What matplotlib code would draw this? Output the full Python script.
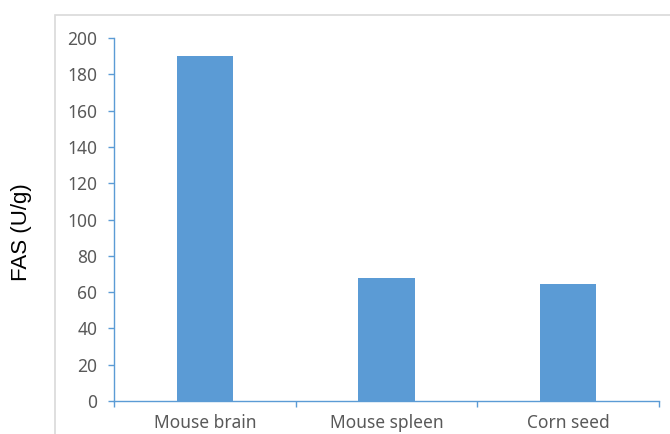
import matplotlib.pyplot as plt
from matplotlib.patches import Rectangle
from matplotlib.ticker import FixedLocator

# FAS activity by sample
samples = ['Mouse brain', 'Mouse spleen', 'Corn seed']
fas_activity = [190, 68, 64.5]

bar_color = '#5b9bd5'
axis_color = '#5b9bd5'
text_gray = '#595959'

fig = plt.figure(figsize=(6.7, 4.34), dpi=100)
ax = fig.add_axes([114 / 670, 1 - 401 / 434, 545 / 670, 363 / 434])

# light frame around the chart area
fig.patches.append(Rectangle((55 / 670, -0.1), 1.0, 1 - 15 / 434 + 0.1,
                             transform=fig.transFigure, fill=False,
                             edgecolor='#d9d9d9', linewidth=1.2, zorder=0))

x = range(len(samples))
ax.bar(x, fas_activity, width=0.31, color=bar_color, zorder=2)

ax.set_xlim(-0.5, len(samples) - 0.5)
ax.set_ylim(0, 200)
ax.set_yticks(range(0, 201, 20))
ax.set_xticks(list(x))
ax.set_xticklabels(samples)
ax.xaxis.set_minor_locator(FixedLocator([-0.5, 0.5, 1.5, 2.5]))

for side in ['top', 'right']:
    ax.spines[side].set_visible(False)
for side in ['left', 'bottom']:
    ax.spines[side].set_color(axis_color)
    ax.spines[side].set_linewidth(1.0)

ax.tick_params(axis='y', which='major', length=4, width=1, color=axis_color,
               labelcolor=text_gray, labelsize=12.5, pad=8)
ax.tick_params(axis='x', which='major', length=0, labelcolor=text_gray,
               labelsize=12.5, pad=9)
ax.tick_params(axis='x', which='minor', length=4, width=1, color=axis_color)
for lbl in ax.get_xticklabels() + ax.get_yticklabels():
    lbl.set_family('Noto Sans')

fig.text(22 / 670, 1 - 232 / 434, 'FAS (U/g)', rotation=90, ha='center',
         va='center', fontsize=16, family='Liberation Sans', color='black')

fig.savefig('out.png', dpi=100)
